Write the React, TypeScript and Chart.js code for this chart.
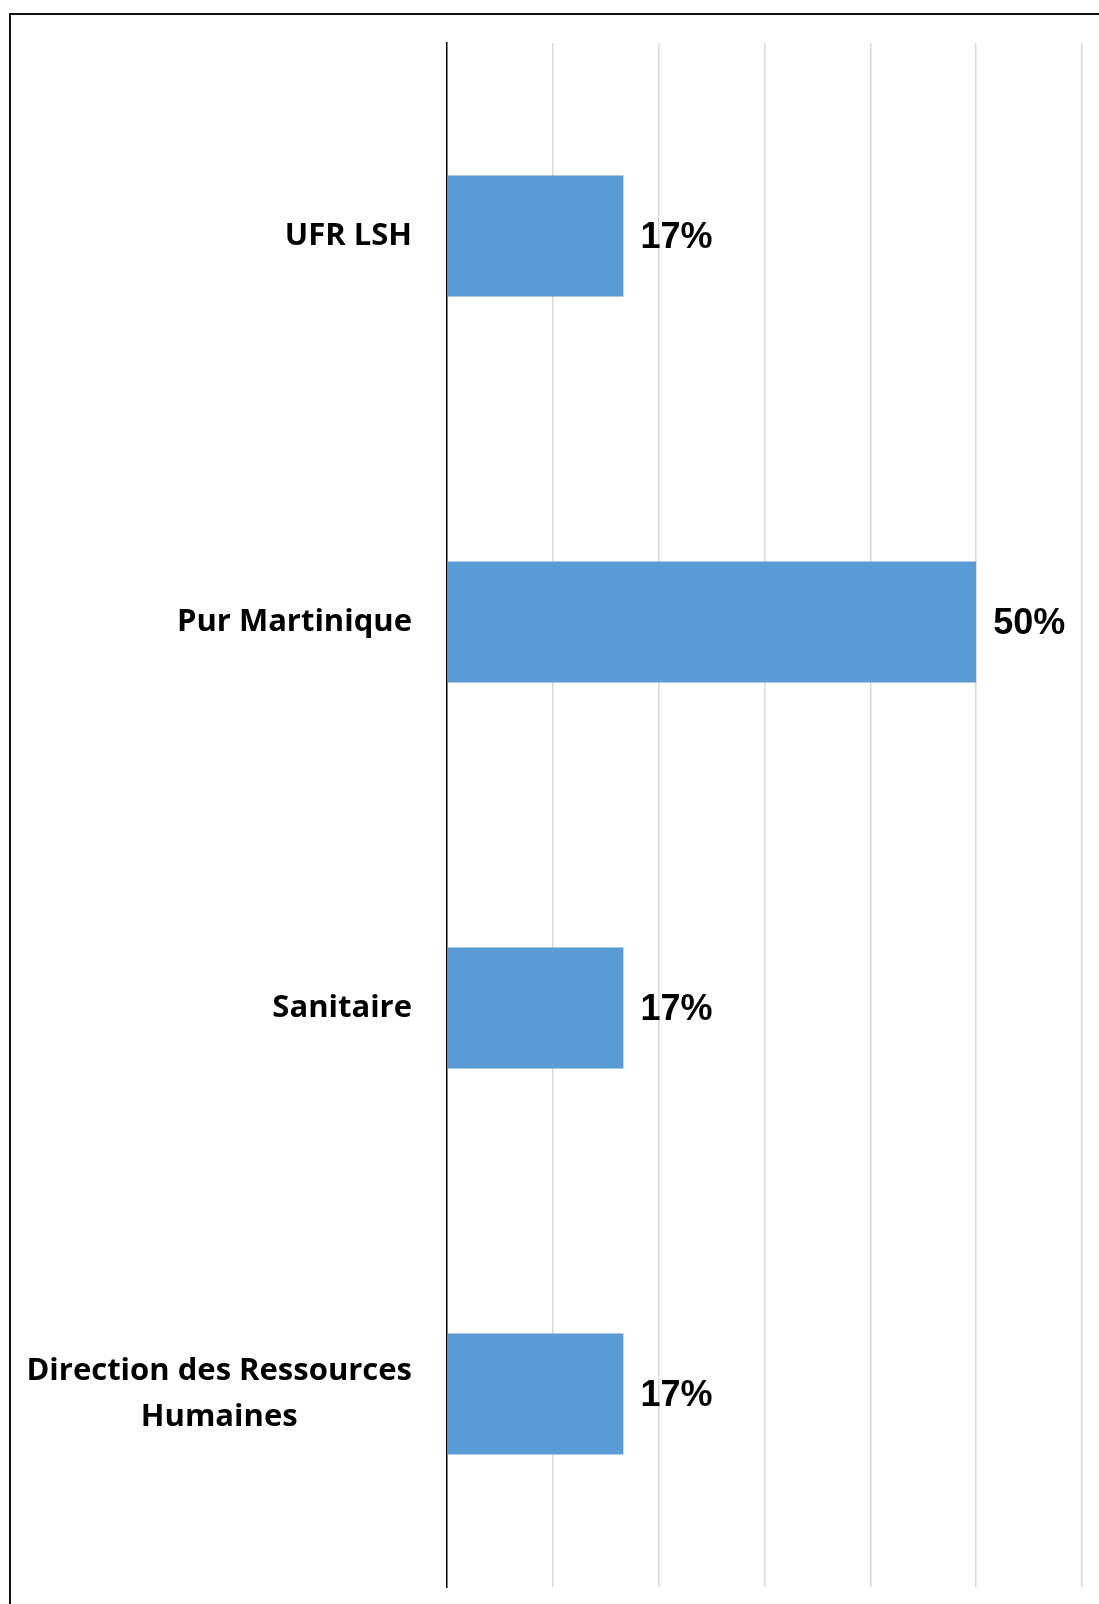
import React, { useEffect, useRef } from "react";
import { Chart, registerables } from "chart.js";

Chart.register(...registerables);

const categories: string[][] = [
  ["UFR LSH"],
  ["Pur Martinique"],
  ["Sanitaire"],
  ["Direction des Ressources", "Humaines"],
];
const values: number[] = [1 / 6, 1 / 2, 1 / 6, 1 / 6];
const axisMax = 0.6;
const axisStep = 0.1;

const LABEL_FONT = 'bold 31px "Open Sans", sans-serif';
const VALUE_FONT = 'bold 36px "Liberation Sans", Arial, sans-serif';

const framePlugin = {
  id: "frame",
  afterDraw(chart: any) {
    const ctx = chart.ctx;
    ctx.save();
    ctx.strokeStyle = "#111";
    ctx.lineWidth = 2;
    ctx.beginPath();
    ctx.moveTo(10, chart.height + 5);
    ctx.lineTo(10, 14);
    ctx.lineTo(chart.width + 5, 14);
    ctx.stroke();
    ctx.restore();
  },
};

const labelsPlugin = {
  id: "catLabels",
  afterDatasetsDraw(chart: any) {
    const ctx = chart.ctx;
    const yScale = chart.scales.y;
    const meta = chart.getDatasetMeta(0);
    ctx.save();
    ctx.font = LABEL_FONT;
    ctx.fillStyle = "#000";
    ctx.textBaseline = "middle";
    ctx.textAlign = "center";
    const rightEdge = chart.chartArea.left - 35;
    const lineH = 46;
    categories.forEach((lines, i) => {
      const cy = yScale.getPixelForValue(i);
      const widths = lines.map((l) => ctx.measureText(l).width);
      const blockW = Math.max(...widths);
      const cx = rightEdge - blockW / 2;
      const startY = cy - ((lines.length - 1) * lineH) / 2;
      lines.forEach((l, j) => {
        ctx.fillText(l, cx, startY + j * lineH);
      });
    });
    ctx.font = VALUE_FONT;
    ctx.textAlign = "left";
    meta.data.forEach((bar: any, i: number) => {
      const txt = Math.round(values[i] * 100) + "%";
      ctx.fillText(txt, bar.x + 17, bar.y + 2);
    });
    ctx.restore();
  },
};

export default function App() {
  const ref = useRef<HTMLCanvasElement>(null);
  useEffect(() => {
    document.body.style.margin = "0";
    const canvas = ref.current!;
    const chart = new Chart(canvas, {
      type: "bar",
      data: {
        labels: categories.map((c) => c.join(" ")),
        datasets: [
          {
            data: values,
            backgroundColor: "#5b9bd5",
            borderWidth: 0,
            categoryPercentage: 1,
            barPercentage: 0.313,
          },
        ],
      },
      options: {
        indexAxis: "y",
        animation: false,
        responsive: false,
        devicePixelRatio: 1,
        layout: { padding: { top: 43, right: 17, bottom: 17, left: 0 } },
        plugins: {
          legend: { display: false },
          tooltip: { enabled: false },
        },
        scales: {
          x: {
            min: 0,
            max: axisMax,
            ticks: { display: false, stepSize: axisStep },
            border: { display: false },
            grid: {
              drawTicks: false,
              lineWidth: 1.5,
              color: (c: any) => (c.tick && c.tick.value === 0 ? "rgba(0,0,0,0)" : "#d9d9d9"),
            },
            afterFit: (s: any) => {
              s.height = 0;
            },
          },
          y: {
            ticks: { display: false },
            grid: { display: false, drawTicks: false },
            border: { display: true, color: "#000", width: 1.5 },
            afterFit: (s: any) => {
              s.width = 447;
            },
          },
        },
      },
      plugins: [labelsPlugin, framePlugin],
    });
    return () => chart.destroy();
  }, []);
  return <canvas ref={ref} width={1099} height={1604} style={{ display: "block" }} />;
}
